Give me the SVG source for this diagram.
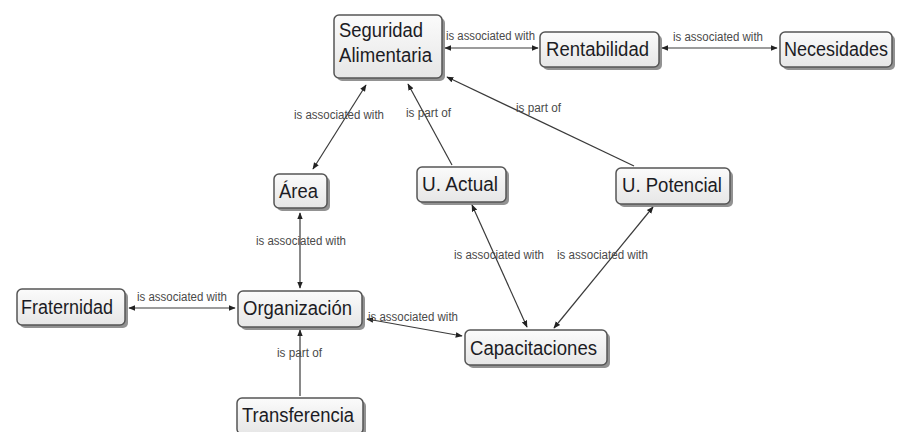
<svg xmlns="http://www.w3.org/2000/svg" width="898" height="432" viewBox="0 0 898 432">
<style>
.sh{fill:#777;opacity:0.8}
.box{fill:url(#g);stroke:#555;stroke-width:1.5}
.t{font-family:"Liberation Sans",Arial,sans-serif;font-size:20px;fill:#1c1c24}
.l{font-family:"Liberation Sans",Arial,sans-serif;font-size:12px;fill:#4a4a4a}
.c{stroke:#3a3a3a;stroke-width:1.2;fill:none}
</style>
<defs>
<linearGradient id="g" x1="0" y1="0" x2="0" y2="1">
<stop offset="0" stop-color="#fbfbfb"/>
<stop offset="1" stop-color="#e6e6e6"/>
</linearGradient>
<marker id="a" viewBox="0 0 10 10" refX="9" refY="5" markerWidth="7" markerHeight="7" markerUnits="userSpaceOnUse" orient="auto-start-reverse">
<path d="M0,1 L10,5 L0,9 z" fill="#222"/>
</marker>
</defs>
<g id="connectors">
<line class="c" x1="445" y1="48" x2="538" y2="48" marker-start="url(#a)" marker-end="url(#a)"/>
<line class="c" x1="662" y1="48" x2="777" y2="48" marker-start="url(#a)" marker-end="url(#a)"/>
<line class="c" x1="366" y1="85" x2="313" y2="169" marker-start="url(#a)" marker-end="url(#a)"/>
<line class="c" x1="452" y1="165" x2="408" y2="84" marker-end="url(#a)"/>
<line class="c" x1="634" y1="166" x2="447" y2="77" marker-end="url(#a)"/>
<line class="c" x1="300" y1="213" x2="300" y2="288" marker-start="url(#a)" marker-end="url(#a)"/>
<line class="c" x1="129" y1="308" x2="235" y2="308" marker-start="url(#a)" marker-end="url(#a)"/>
<line class="c" x1="300" y1="396" x2="300" y2="330" marker-end="url(#a)"/>
<line class="c" x1="367" y1="319" x2="462" y2="336" marker-start="url(#a)" marker-end="url(#a)"/>
<line class="c" x1="472" y1="205" x2="527" y2="327" marker-start="url(#a)" marker-end="url(#a)"/>
<line class="c" x1="653" y1="207" x2="554" y2="328" marker-start="url(#a)" marker-end="url(#a)"/>
<text class="l" x="446" y="40" textLength="89" lengthAdjust="spacingAndGlyphs">is associated with</text>
<text class="l" x="673" y="41" textLength="90" lengthAdjust="spacingAndGlyphs">is associated with</text>
<text class="l" x="294" y="119" textLength="90" lengthAdjust="spacingAndGlyphs">is associated with</text>
<text class="l" x="406" y="117" textLength="45" lengthAdjust="spacingAndGlyphs">is part of</text>
<text class="l" x="516" y="112" textLength="45" lengthAdjust="spacingAndGlyphs">is part of</text>
<text class="l" x="256" y="245" textLength="90" lengthAdjust="spacingAndGlyphs">is associated with</text>
<text class="l" x="137" y="301" textLength="90" lengthAdjust="spacingAndGlyphs">is associated with</text>
<text class="l" x="277" y="357" textLength="45" lengthAdjust="spacingAndGlyphs">is part of</text>
<text class="l" x="368" y="321" textLength="90" lengthAdjust="spacingAndGlyphs">is associated with</text>
<text class="l" x="454" y="259" textLength="90" lengthAdjust="spacingAndGlyphs">is associated with</text>
<text class="l" x="557" y="259" textLength="91" lengthAdjust="spacingAndGlyphs">is associated with</text>
</g>
<g id="seguridad">
<rect class="sh" x="337" y="18" width="108" height="63" rx="5"/>
<rect class="box" x="334" y="15" width="108" height="63" rx="5"/>
<text class="t" x="339" y="37" textLength="84" lengthAdjust="spacingAndGlyphs">Seguridad</text>
<text class="t" x="339" y="62" textLength="93" lengthAdjust="spacingAndGlyphs">Alimentaria</text>
</g>
<g id="rentabilidad">
<rect class="sh" x="543" y="35" width="119" height="35" rx="5"/>
<rect class="box" x="540" y="32" width="119" height="35" rx="5"/>
<text class="t" x="546" y="56" textLength="103" lengthAdjust="spacingAndGlyphs">Rentabilidad</text>
</g>
<g id="necesidades">
<rect class="sh" x="783" y="35" width="112" height="35" rx="5"/>
<rect class="box" x="780" y="32" width="112" height="35" rx="5"/>
<text class="t" x="784" y="56" textLength="104" lengthAdjust="spacingAndGlyphs">Necesidades</text>
</g>
<g id="area">
<rect class="sh" x="277" y="177" width="53" height="34" rx="5"/>
<rect class="box" x="274" y="174" width="53" height="34" rx="5"/>
<text class="t" x="279" y="198" textLength="39" lengthAdjust="spacingAndGlyphs">Área</text>
</g>
<g id="uactual">
<rect class="sh" x="420" y="170" width="89" height="35" rx="5"/>
<rect class="box" x="417" y="167" width="89" height="35" rx="5"/>
<text class="t" x="422" y="191" textLength="76" lengthAdjust="spacingAndGlyphs">U. Actual</text>
</g>
<g id="upotencial">
<rect class="sh" x="619" y="171" width="114" height="36" rx="5"/>
<rect class="box" x="616" y="168" width="114" height="36" rx="5"/>
<text class="t" x="622" y="192" textLength="100" lengthAdjust="spacingAndGlyphs">U. Potencial</text>
</g>
<g id="fraternidad">
<rect class="sh" x="20" y="292" width="108" height="36" rx="5"/>
<rect class="box" x="17" y="289" width="108" height="36" rx="5"/>
<text class="t" x="21" y="314" textLength="92" lengthAdjust="spacingAndGlyphs">Fraternidad</text>
</g>
<g id="organizacion">
<rect class="sh" x="241" y="294" width="124" height="36" rx="5"/>
<rect class="box" x="238" y="291" width="124" height="36" rx="5"/>
<text class="t" x="243" y="315" textLength="109" lengthAdjust="spacingAndGlyphs">Organización</text>
</g>
<g id="transferencia">
<rect class="sh" x="240" y="401" width="126" height="36" rx="5"/>
<rect class="box" x="237" y="398" width="126" height="36" rx="5"/>
<text class="t" x="242" y="422" textLength="112" lengthAdjust="spacingAndGlyphs">Transferencia</text>
</g>
<g id="capacitaciones">
<rect class="sh" x="468" y="333" width="142" height="35" rx="5"/>
<rect class="box" x="465" y="330" width="142" height="35" rx="5"/>
<text class="t" x="470" y="355" textLength="127" lengthAdjust="spacingAndGlyphs">Capacitaciones</text>
</g>
</svg>
